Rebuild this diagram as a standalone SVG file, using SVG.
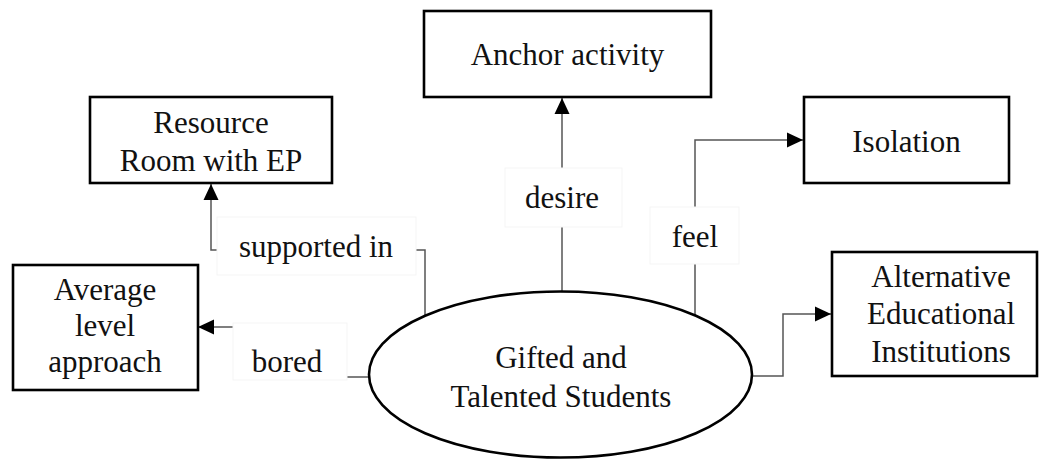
<svg xmlns="http://www.w3.org/2000/svg" width="1039" height="459" viewBox="0 0 1039 459">
  <style>
    .box { fill: #ffffff; stroke: #000000; stroke-width: 2.6; }
    .lbl { fill: #ffffff; stroke: #f5f5f5; stroke-width: 1; }
    .edge { fill: none; stroke: #555555; stroke-width: 1.5; }
    .t { font-family: "Liberation Serif", "Tinos", "Times New Roman", "DejaVu Serif", serif; font-size: 31px; fill: #111111; text-anchor: middle; }
  </style>
  <defs>
    <marker id="arrow" markerUnits="userSpaceOnUse" markerWidth="17" markerHeight="17" refX="16" refY="8" orient="auto">
      <path d="M0,0.5 L16,8 L0,15.5 z" fill="#000000"/>
    </marker>
  </defs>
  <rect width="1039" height="459" fill="#ffffff"/>

  <!-- connectors with their label boxes -->
  <g id="connectors">
    <path class="edge" d="M425,316 V250 H211 V184" marker-end="url(#arrow)"/>
    <path class="edge" d="M369,377 H290 V327 H198" marker-end="url(#arrow)"/>
    <path class="edge" d="M562,292 V98" marker-end="url(#arrow)"/>
    <path class="edge" d="M695,315 V140 H803" marker-end="url(#arrow)"/>
    <path class="edge" d="M752,376 H783 V314 H831" marker-end="url(#arrow)"/>

    <rect class="lbl" x="217" y="217" width="199" height="58"/>
    <text class="t" x="316" y="257">supported in</text>
    <rect class="lbl" x="233" y="323" width="114" height="57"/>
    <text class="t" x="287" y="372">bored</text>
    <rect class="lbl" x="505" y="168" width="117" height="59"/>
    <text class="t" x="562" y="208">desire</text>
    <rect class="lbl" x="650" y="207" width="89" height="57"/>
    <text class="t" x="695" y="247">feel</text>
  </g>

  <g id="resource-room">
    <rect class="box" x="90" y="97" width="242" height="86"/>
    <text class="t" x="211" y="133">Resource</text>
    <text class="t" x="211" y="171">Room with EP</text>
  </g>

  <g id="anchor-activity">
    <rect class="box" x="424" y="11" width="287" height="86"/>
    <text class="t" x="567.5" y="65">Anchor activity</text>
  </g>

  <g id="isolation">
    <rect class="box" x="804" y="97" width="205" height="86"/>
    <text class="t" x="906.5" y="152">Isolation</text>
  </g>

  <g id="average-level">
    <rect class="box" x="13" y="265" width="185" height="125"/>
    <text class="t" x="105" y="300">Average</text>
    <text class="t" x="105" y="336">level</text>
    <text class="t" x="105" y="372">approach</text>
  </g>

  <g id="alternative-institutions">
    <rect class="box" x="832" y="252" width="205" height="124"/>
    <text class="t" x="941" y="287">Alternative</text>
    <text class="t" x="941" y="324">Educational</text>
    <text class="t" x="941" y="362">Institutions</text>
  </g>

  <g id="gifted-students">
    <ellipse class="box" cx="560.5" cy="374.5" rx="191.5" ry="83"/>
    <text class="t" x="561" y="368">Gifted and</text>
    <text class="t" x="561" y="407">Talented Students</text>
  </g>
</svg>
